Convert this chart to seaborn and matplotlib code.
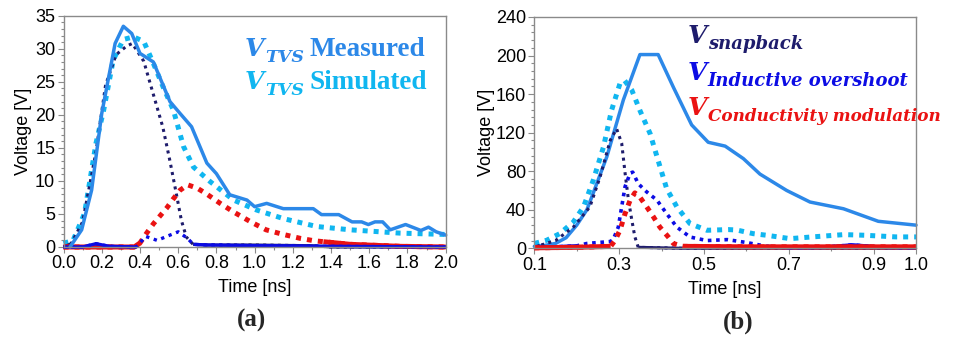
import numpy as np
import pandas as pd
import seaborn as sns
import matplotlib
matplotlib.use("Agg")
import matplotlib.pyplot as plt
from matplotlib.ticker import MultipleLocator, FixedLocator, FormatStrFormatter

# ---------------- data: panel (a) ----------------
tA_meas = [0.034, 0.095, 0.147, 0.2, 0.27, 0.313, 0.357, 0.4, 0.47, 0.557, 0.61, 0.67, 0.75, 0.8,
           0.87, 0.96, 1.0, 1.063, 1.15, 1.307, 1.35, 1.44, 1.51, 1.56, 1.595, 1.63, 1.67, 1.71,
           1.79, 1.87, 1.91, 1.95, 2.0]
vA_meas = [0.0, 2.6, 8.6, 20.2, 30.8, 33.4, 32.3, 29.3, 28.0, 22.0, 20.2, 18.2, 12.7, 11.1,
           7.9, 7.1, 6.1, 6.6, 5.8, 5.8, 4.9, 4.9, 3.8, 3.8, 3.4, 3.8, 3.8, 2.6,
           3.4, 2.5, 3.0, 2.3, 1.8]

tA_sim = [0.0, 0.05, 0.11, 0.17, 0.21, 0.26, 0.313, 0.366, 0.42, 0.47, 0.52, 0.575, 0.628, 0.68,
          0.767, 0.89, 1.01, 1.15, 1.325, 1.5, 1.76, 2.0]
vA_sim = [0.55, 1.0, 5.1, 15.7, 20.7, 28.3, 31.4, 31.8, 31.1, 27.8, 24.3, 20.7, 15.2, 12.1,
          9.9, 7.1, 5.6, 4.3, 3.1, 2.6, 2.1, 1.9]

tA_snap = [0.0, 0.04, 0.1, 0.17, 0.22, 0.275, 0.33, 0.36, 0.42, 0.47, 0.52, 0.557, 0.59, 0.617,
           0.643, 0.678, 0.75, 1.0, 1.3, 1.4, 2.0]
vA_snap = [0.0, 0.5, 3.8, 14.4, 24.5, 29.1, 30.4, 30.8, 28.1, 23.1, 18.1, 13.0, 8.1, 4.0,
           1.5, 0.4, 0.3, 0.3, 0.2, 0.0, 0.0]

tA_ind = [0.0, 0.1, 0.17, 0.24, 0.38, 0.43, 0.49, 0.54, 0.6, 0.645, 0.68, 0.75, 1.0, 1.4, 2.0]
vA_ind = [0.0, 0.0, 0.5, 0.1, 0.0, 1.6, 1.0, 1.6, 2.3, 1.4, 0.4, 0.3, 0.2, 0.1, 0.0]

tA_cond = [0.0, 0.37, 0.4, 0.435, 0.47, 0.54, 0.575, 0.61, 0.65, 0.7, 0.75, 0.82, 0.89, 0.98,
           1.06, 1.15, 1.24, 1.31, 1.36, 1.5, 1.76, 2.0]
vA_cond = [0.0, 0.0, 0.6, 2.1, 3.5, 5.9, 7.3, 8.6, 9.4, 8.9, 8.0, 6.6, 5.3, 3.8,
           2.6, 1.9, 1.3, 0.95, 0.8, 0.4, 0.1, 0.0]

# ---------------- data: panel (b) ----------------
tB_meas = [0.1, 0.125, 0.15, 0.175, 0.2, 0.224, 0.231, 0.271, 0.31, 0.349, 0.392, 0.428, 0.471,
           0.51, 0.55, 0.593, 0.632, 0.695, 0.75, 0.829, 0.911, 1.0]
vB_meas = [2, 3, 5, 11, 24, 40, 48, 95, 154, 201, 201, 167, 128,
           110, 106, 93, 77, 60, 48, 41, 28, 24]

tB_sim = [0.1, 0.129, 0.16, 0.192, 0.216, 0.239, 0.263, 0.282, 0.302, 0.313, 0.33, 0.349, 0.373,
          0.392, 0.412, 0.436, 0.467, 0.507, 0.557, 0.577, 0.616, 0.648, 0.703, 0.755, 0.83,
          0.88, 0.953, 1.0]
vB_sim = [5, 8.3, 15.2, 27.3, 42.9, 70.6, 105, 143, 171, 174, 164, 143, 119,
          91, 62, 43, 25.6, 18.7, 19.4, 19, 15.2, 13.5, 10, 11.8, 14.2,
          13.5, 11.8, 11.8]

tB_snap = [0.1, 0.113, 0.15, 0.192, 0.231, 0.255, 0.279, 0.294, 0.306, 0.314, 0.322, 0.33,
           0.337, 0.345, 0.45, 1.0]
vB_snap = [1, 3, 8, 22, 43, 74, 112, 124, 109, 78, 50, 29, 12, 1, 0, 0]

tB_ind = [0.1, 0.15, 0.2, 0.224, 0.279, 0.286, 0.298, 0.306, 0.314, 0.326, 0.332, 0.345, 0.365,
          0.389, 0.412, 0.436, 0.467, 0.507, 0.555, 0.6, 0.648, 0.7, 0.78, 0.85, 0.92, 1.0]
vB_ind = [1, 1.5, 2.5, 5, 7, 9, 22, 43, 64, 78, 79, 67, 58.5,
          50, 36, 22, 11.7, 8, 9, 6, 2, 0.5, 1, 3.5, 1, 0.5]

tB_cond = [0.1, 0.2, 0.28, 0.29, 0.302, 0.314, 0.326, 0.337, 0.349, 0.365, 0.381, 0.396, 0.416,
           0.428, 0.45, 0.6, 0.8, 1.0]
vB_cond = [0.5, 1, 2, 8, 18.7, 36, 50, 57.5, 53, 43, 32.5, 22, 11.7,
           4.9, 2, 1.5, 1.5, 1.5]

xticksA = [0.0, 0.2, 0.4, 0.6, 0.8, 1.0, 1.2, 1.4, 1.6, 1.8, 2.0]
xticksB = [0.1, 0.3, 0.5, 0.7, 0.9, 1.0]

# ---------------- style ----------------
C_MEAS = "#2C88E8"
C_SIM = "#10B6F0"
C_SNAP = "#1E1C6C"
C_IND = "#0C0CE4"
C_COND = "#EA1212"

sns.set_theme(style="white")
plt.rcParams["font.family"] = ["Liberation Sans", "DejaVu Sans"]

fig = plt.figure(figsize=(9.61, 3.39), dpi=100)
axA = fig.add_axes([0.0661, 0.2714, 0.3977, 0.6823])
axB = fig.add_axes([0.5560, 0.2676, 0.3972, 0.6823])


def draw(ax, t, v, color, lw, dotted, gap=1.0, thr=None):
    df = pd.DataFrame({"t": t, "v": v})
    ls = (0, (1, gap)) if dotted else "-"
    sns.lineplot(data=df, x="t", y="v", ax=ax, color=color, linewidth=lw,
                 linestyle=ls, estimator=None, sort=False, dash_capstyle="butt",
                 clip_on=False)
    if thr is not None:
        low = df["v"].to_numpy() < thr
        idx = np.flatnonzero(low)
        if len(idx):
            groups = np.split(idx, np.where(np.diff(idx) != 1)[0] + 1)
            for g in groups:
                if len(g) >= 2:
                    seg = df.iloc[g]
                    sns.lineplot(data=seg, x="t", y="v", ax=ax, color=color,
                                 linewidth=lw, estimator=None, sort=False,
                                 solid_capstyle="butt", clip_on=False)


# panel (a)
draw(axA, tA_sim, vA_sim, C_SIM, 3.6, True, gap=1.2)
draw(axA, tA_snap, vA_snap, C_SNAP, 2.2, True, gap=1.4, thr=0.9)
draw(axA, tA_cond, vA_cond, C_COND, 3.6, True, gap=1.2, thr=0.9)
draw(axA, tA_ind, vA_ind, C_IND, 2.4, True, gap=1.4, thr=0.9)
draw(axA, tA_meas, vA_meas, C_MEAS, 2.5, False)

# panel (b)
draw(axB, tB_sim, vB_sim, C_SIM, 3.6, True, gap=1.2)
draw(axB, tB_meas, vB_meas, C_MEAS, 2.5, False)
draw(axB, tB_snap, vB_snap, C_SNAP, 2.2, True, gap=1.4, thr=4.5)
draw(axB, tB_ind, vB_ind, C_IND, 2.6, True, gap=1.3, thr=4.5)
draw(axB, tB_cond, vB_cond, C_COND, 3.6, True, gap=1.2, thr=4.5)

for ax in (axA, axB):
    for s in ax.spines.values():
        s.set_color("#8a8a8a")
        s.set_linewidth(1.0)
        s.set_visible(True)
    ax.tick_params(which="both", direction="out", color="#8a8a8a", labelcolor="black",
                   labelsize=13, width=0.8, bottom=True, left=True, top=False, right=False)
    ax.tick_params(which="major", length=4, pad=2)
    ax.tick_params(which="minor", length=2.5)
    ax.grid(False)
    ax.set_facecolor("white")

axA.set_xlim(0, 2.0)
axA.set_ylim(0, 35)
axA.xaxis.set_major_locator(FixedLocator(xticksA))
axA.xaxis.set_minor_locator(MultipleLocator(0.1))
axA.xaxis.set_major_formatter(FormatStrFormatter("%.1f"))
axA.yaxis.set_major_locator(MultipleLocator(5))
axA.yaxis.set_minor_locator(MultipleLocator(1))
axA.yaxis.set_major_formatter(FormatStrFormatter("%d"))

axB.set_xlim(0.1, 1.0)
axB.set_ylim(0, 240)
axB.xaxis.set_major_locator(FixedLocator(xticksB))
axB.xaxis.set_minor_locator(FixedLocator([0.2, 0.4, 0.6, 0.8]))
axB.xaxis.set_major_formatter(FormatStrFormatter("%.1f"))
axB.yaxis.set_major_locator(MultipleLocator(40))
axB.yaxis.set_minor_locator(MultipleLocator(8))
axB.yaxis.set_major_formatter(FormatStrFormatter("%d"))

for ax, xl, yl in ((axA, -0.177, -0.106), (axB, -0.18, -0.124)):
    ax.set_xlabel("Time [ns]", fontsize=13, va="center", color="black")
    ax.set_ylabel("Voltage [V]", fontsize=13, va="center", color="black")
    ax.xaxis.set_label_coords(0.5, xl)
    ax.yaxis.set_label_coords(yl, 0.5)

fig.text(252 / 961, 1 - 320 / 339, "(a)", ha="center", va="center",
         fontsize=18, fontweight="bold", family="Liberation Serif")
fig.text(738 / 961, 1 - 322 / 339, "(b)", ha="center", va="center",
         fontsize=18, fontweight="bold", family="Liberation Serif")

SERIF_BI = dict(family="DejaVu Serif", fontweight="bold", fontstyle="italic")


def vlabel(ax, x_px, base_px, sub, rest, color, vsize=18, subsize=13, drop=4.3):
    xf = x_px / 961
    yf = 1 - base_px / 339
    t1 = fig.text(xf, yf, "V", color=color, fontsize=vsize, va="baseline", ha="left", **SERIF_BI)
    t2 = ax.annotate(sub, xy=(1, yf), xycoords=(t1, "figure fraction"),
                     xytext=(0.3, -drop), textcoords="offset points",
                     color=color, fontsize=subsize, va="baseline", ha="left",
                     annotation_clip=False, **SERIF_BI)
    if rest:
        ax.annotate(rest, xy=(1, yf), xycoords=(t2, "figure fraction"),
                    xytext=(4.5, 0), textcoords="offset points",
                    color=color, fontsize=19.5, va="baseline", ha="left",
                    fontweight="bold", family="Liberation Serif", annotation_clip=False)


vlabel(axA, 245, 56, "TVS", "Measured", C_MEAS, subsize=12.5)
vlabel(axA, 245, 89, "TVS", "Simulated", C_SIM, subsize=12.5)
vlabel(axB, 688, 43, "snapback", None, C_SNAP)
vlabel(axB, 688, 80, "Inductive overshoot", None, C_IND)
vlabel(axB, 688, 115, "Conductivity modulation", None, C_COND, subsize=12.2)

fig.savefig("out.png", dpi=100, facecolor="white")
